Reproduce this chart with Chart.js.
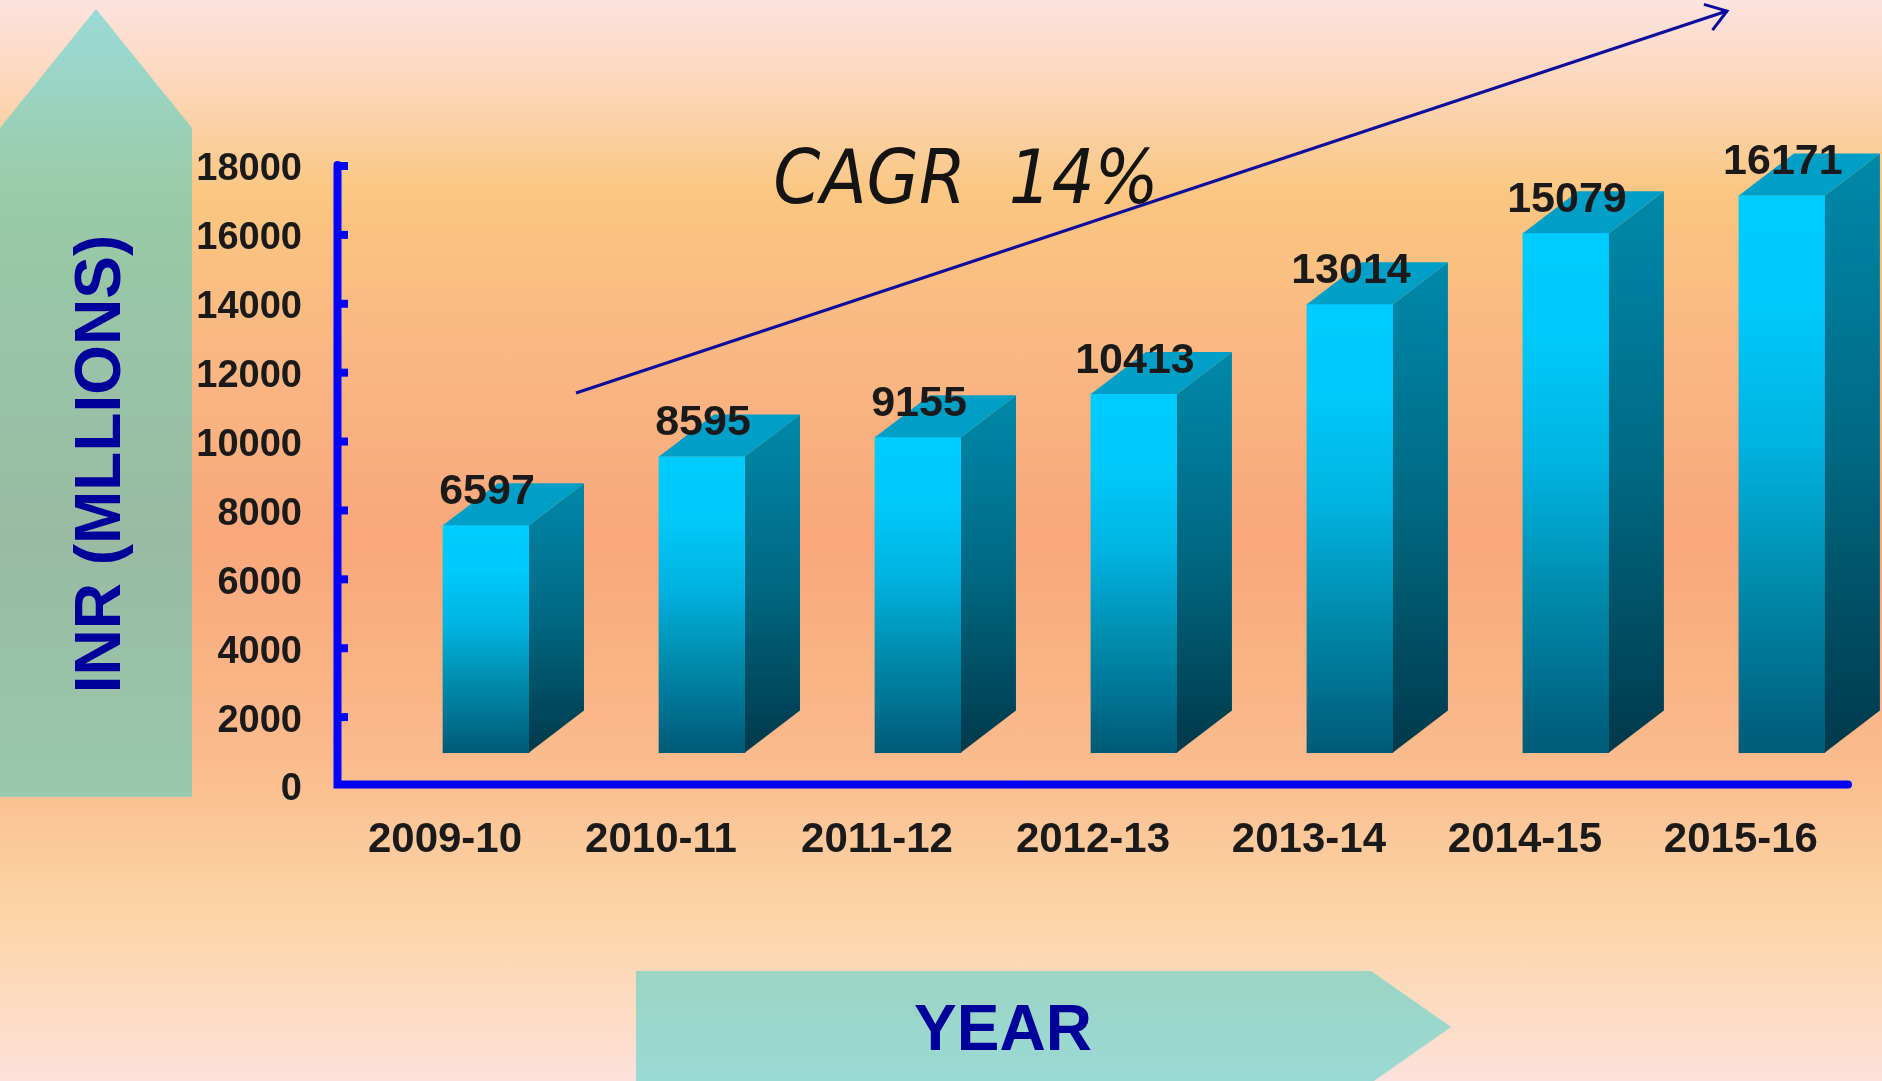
<!DOCTYPE html>
<html>
<head>
<meta charset="utf-8">
<title>CAGR 14%</title>
<script src="https://cdn.jsdelivr.net/npm/chart.js@4.4.0/dist/chart.umd.min.js"></script>
<style>
  html, body { margin: 0; padding: 0; }
  body {
    width: 1882px;
    height: 1081px;
    overflow: hidden;
    background: linear-gradient(to bottom,
      #fde3dd 0%, #fcd8bf 7%, #fac680 18%, #f9b682 34%,
      #f9a77b 50%, #fabb8c 70%, #fcd5a7 85%, #fde1da 100%);
  }
  canvas { display: block; }
</style>
</head>
<body>
<canvas id="chart" width="1882" height="1081"></canvas>
<script>
// data
const categories = ['2009-10', '2010-11', '2011-12', '2012-13', '2013-14', '2014-15', '2015-16'];
const values = [6597, 8595, 9155, 10413, 13014, 15079, 16171];
const yTicks = [0, 2000, 4000, 6000, 8000, 10000, 12000, 14000, 16000, 18000];
const yTitle = 'INR (MLLIONS)';
const xTitle = 'YEAR';
const growthText = 'CAGR  14%';

const FONT = "'Liberation Sans', Arial, sans-serif";
const floorValue = 970;   // 3D floor sits a little above zero
const depthX = 55;
const depthY = 42;

// front face gradient, one per bar
function frontFill(context) {
    const chart = context.chart;
    if (!chart.chartArea) return '#00ccff';
    const yScale = chart.scales.y;
    const v = values[context.dataIndex];
    const top = yScale.getPixelForValue(floorValue + v);
    const bottom = yScale.getPixelForValue(floorValue);
    const g = chart.ctx.createLinearGradient(0, top, 0, bottom);
    g.addColorStop(0, '#00ccff');
    g.addColorStop(0.2, '#00c9fc');
    g.addColorStop(0.45, '#00b2df');
    g.addColorStop(0.7, '#008aab');
    g.addColorStop(1, '#005a77');
    return g;
}

const decorPlugin = {
    id: 'decor',
    beforeDraw(chart) {
        const ctx = chart.ctx;
        ctx.save();
        // translucent arrows behind the axis titles
        ctx.fillStyle = 'rgba(48, 208, 207, 0.48)';
        ctx.beginPath();
        ctx.moveTo(0, 128);
        ctx.lineTo(96, 9);
        ctx.lineTo(192, 128);
        ctx.lineTo(192, 797);
        ctx.lineTo(0, 797);
        ctx.closePath();
        ctx.fill();

        ctx.beginPath();
        ctx.moveTo(636, 971);
        ctx.lineTo(1371, 971);
        ctx.lineTo(1451, 1027);
        ctx.lineTo(1371, 1083);
        ctx.lineTo(636, 1083);
        ctx.closePath();
        ctx.fill();

        ctx.fillStyle = '#00009a';
        ctx.font = 'bold 64px ' + FONT;
        ctx.textAlign = 'center';
        ctx.textBaseline = 'middle';
        ctx.fillText(xTitle, 1003, 1032);

        ctx.translate(102, 464);
        ctx.rotate(-Math.PI / 2);
        ctx.fillText(yTitle, 0, 0);
        ctx.restore();
    },
    afterDatasetsDraw(chart) {
        const ctx = chart.ctx;
        const meta = chart.getDatasetMeta(0);
        ctx.save();
        meta.data.forEach((bar, i) => {
            const left = bar.x - bar.width / 2;
            const right = bar.x + bar.width / 2;
            const top = bar.y;
            const bottom = bar.base;

            // side face
            const sg = ctx.createLinearGradient(0, top - depthY, 0, bottom);
            sg.addColorStop(0, '#0089aa');
            sg.addColorStop(0.5, '#006883');
            sg.addColorStop(1, '#00394a');
            ctx.fillStyle = sg;
            ctx.beginPath();
            ctx.moveTo(right, top);
            ctx.lineTo(right + depthX, top - depthY);
            ctx.lineTo(right + depthX, bottom - depthY);
            ctx.lineTo(right, bottom);
            ctx.closePath();
            ctx.fill();

            // top face
            ctx.fillStyle = '#009fc8';
            ctx.beginPath();
            ctx.moveTo(left, top);
            ctx.lineTo(left + depthX, top - depthY);
            ctx.lineTo(right + depthX, top - depthY);
            ctx.lineTo(right, top);
            ctx.closePath();
            ctx.fill();
        });

        // value labels
        ctx.fillStyle = '#1a1a1a';
        ctx.font = 'bold 43px ' + FONT;
        ctx.textAlign = 'center';
        ctx.textBaseline = 'middle';
        meta.data.forEach((bar, i) => {
            ctx.fillText(String(values[i]), bar.x + 1, bar.y - 33);
        });
        ctx.restore();
    },
    afterDraw(chart) {
        const ctx = chart.ctx;
        const yScale = chart.scales.y;
        const area = chart.chartArea;
        const y0 = yScale.getPixelForValue(0);
        const yTop = yScale.getPixelForValue(yTicks[yTicks.length - 1]);
        ctx.save();

        // axis lines
        ctx.strokeStyle = '#0000ff';
        ctx.fillStyle = '#0000ff';
        ctx.lineWidth = 8;
        ctx.lineCap = 'round';
        ctx.beginPath();
        ctx.moveTo(area.left - 2.5, yTop - 1);
        ctx.lineTo(area.left - 2.5, y0 - 1.5);
        ctx.lineTo(area.right, y0 - 1.5);
        ctx.stroke();
        yTicks.forEach(t => {
            if (t === 0) return;
            const py = yScale.getPixelForValue(t);
            ctx.fillRect(area.left, py - 4, 8, 8);
        });

        // growth arrow
        ctx.strokeStyle = '#0d0d9e';
        ctx.lineWidth = 3;
        ctx.lineCap = 'butt';
        const x1 = 576, y1 = 393, x2 = 1727, y2 = 11;
        ctx.beginPath();
        ctx.moveTo(x1, y1);
        ctx.lineTo(x2, y2);
        ctx.stroke();
        const ang = Math.atan2(y1 - y2, x1 - x2);
        ctx.beginPath();
        ctx.moveTo(x2 + 24 * Math.cos(ang + 0.6), y2 + 24 * Math.sin(ang + 0.6));
        ctx.lineTo(x2, y2);
        ctx.lineTo(x2 + 24 * Math.cos(ang - 0.6), y2 + 24 * Math.sin(ang - 0.6));
        ctx.stroke();

        // CAGR text (squeezed a little)
        ctx.fillStyle = '#141414';
        ctx.font = "italic 75px 'DejaVu Sans', sans-serif";
        ctx.textAlign = 'center';
        ctx.textBaseline = 'alphabetic';
        ctx.translate(966, 203);
        ctx.scale(0.9, 1);
        ctx.fillText(growthText, 0, 0);
        ctx.restore();
    }
};

const chart = new Chart(document.getElementById('chart'), {
    type: 'bar',
    data: {
        datasets: [{
            data: values.map((v, i) => ({ x: i, y: [floorValue, floorValue + v] })),
            backgroundColor: frontFill,
            borderWidth: 0,
            barThickness: 86
        }]
    },
    options: {
        responsive: false,
        animation: false,
        layout: { padding: { top: 166, right: 34, bottom: 0, left: 0 } },
        plugins: {
            legend: { display: false },
            tooltip: { enabled: false }
        },
        scales: {
            x: {
                type: 'linear',
                min: -0.676,
                max: 6.306,
                offset: false,
                grid: { display: false, drawTicks: false },
                border: { display: false },
                afterBuildTicks: scale => {
                    scale.ticks = categories.map((c, i) => ({ value: i }));
                },
                afterFit: scale => {
                    scale.height = 295;
                    // labels fit inside, so no extra side padding
                    scale.paddingLeft = 0;
                    scale.paddingRight = 0;
                },
                ticks: {
                    callback: v => categories[v],
                    labelOffset: -41,
                    padding: 29,
                    autoSkip: false,
                    maxRotation: 0,
                    color: '#1a1a1a',
                    font: { family: FONT, size: 42, weight: 'bold' }
                }
            },
            y: {
                min: 0,
                max: 18000,
                grid: { display: false, drawTicks: false },
                border: { display: false },
                afterBuildTicks: scale => {
                    scale.ticks = yTicks.map(v => ({ value: v }));
                },
                afterFit: scale => { scale.width = 340; },
                ticks: {
                    callback: v => String(v),
                    labelOffset: 4,
                    padding: 38,
                    color: '#1a1a1a',
                    font: { family: FONT, size: 38, weight: 'bold' }
                }
            }
        }
    },
    plugins: [decorPlugin]
});
</script>
</body>
</html>
